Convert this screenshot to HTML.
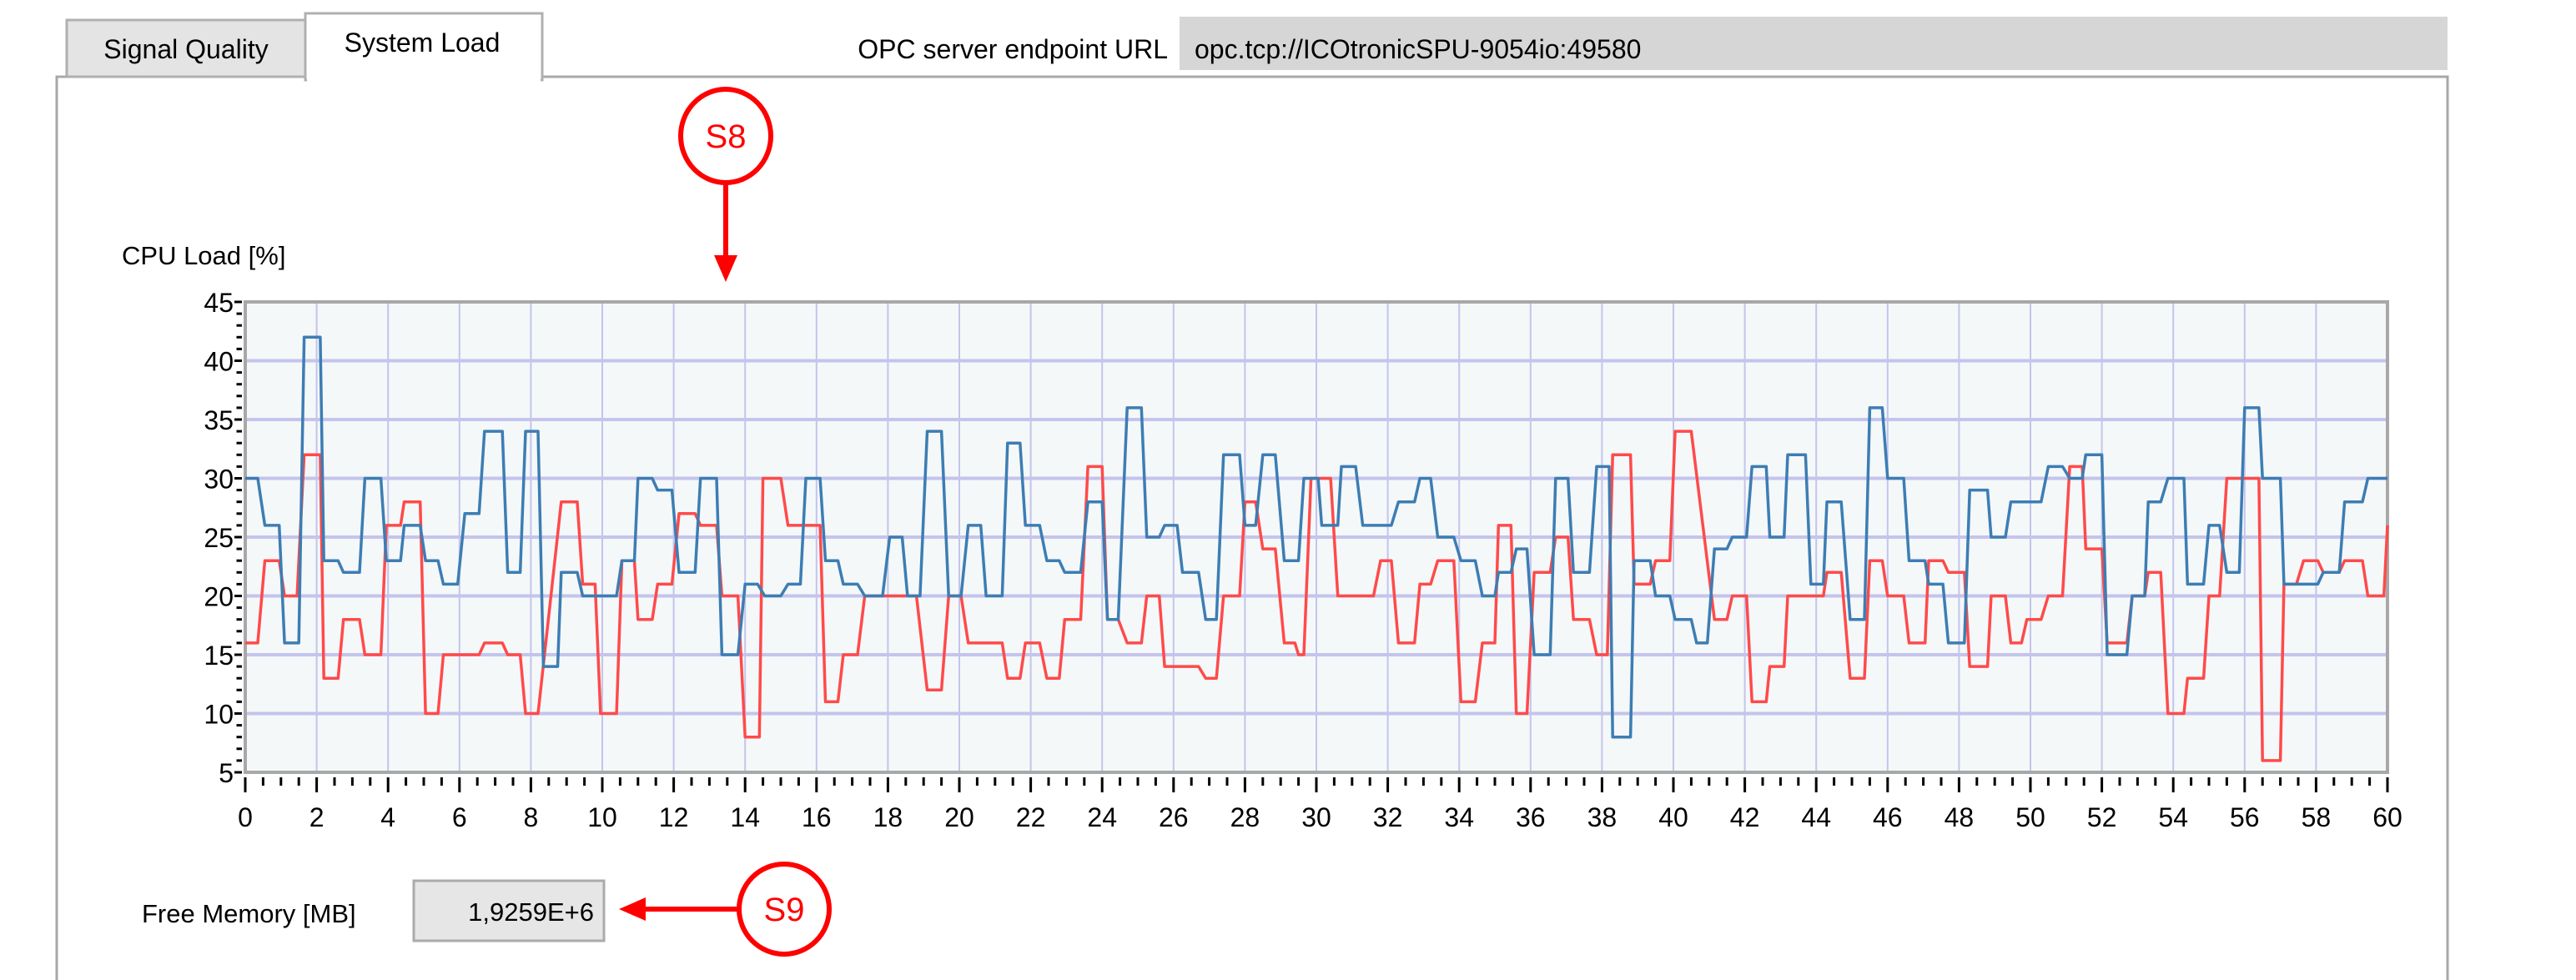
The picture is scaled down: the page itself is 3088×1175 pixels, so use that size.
<!DOCTYPE html>
<html><head><meta charset="utf-8"><style>
html,body{margin:0;padding:0;background:#fff;width:3088px;height:1175px;overflow:hidden;font-family:"Liberation Sans",sans-serif;}
</style></head><body>
<svg id="s" width="3088" height="1175" xmlns="http://www.w3.org/2000/svg" font-family="Liberation Sans, sans-serif">
<rect x="68" y="92" width="2866" height="1090" fill="#fff" stroke="#a8a8a8" stroke-width="3"/>
<rect x="80" y="24" width="286" height="68" fill="#e4e4e4" stroke="#b0b0b0" stroke-width="3"/>
<text x="223" y="70" font-size="32" text-anchor="middle" fill="#000">Signal Quality</text>
<rect x="366" y="16" width="284" height="80" fill="#fff" stroke="#b0b0b0" stroke-width="3"/>
<rect x="368" y="88" width="280" height="10" fill="#fff"/>
<text x="506" y="62" font-size="32" text-anchor="middle" fill="#000">System Load</text>
<text x="1400" y="70" font-size="32" text-anchor="end" fill="#000">OPC server endpoint URL</text>
<rect x="1414" y="20" width="1520" height="64" fill="#d6d6d6"/>
<text x="1432" y="70" font-size="32" fill="#000">opc.tcp://ICOtronicSPU-9054io:49580</text>
<text x="146" y="317" font-size="31" fill="#000">CPU Load [%]</text>
<g id="plot"></g>
<text x="170" y="1106" font-size="31" fill="#000">Free Memory [MB]</text>
<rect x="496" y="1056" width="228" height="72" fill="#e6e6e6" stroke="#ababab" stroke-width="3"/>
<text x="712" y="1104" font-size="31" text-anchor="end" fill="#000">1,9259E+6</text>
<g stroke="#f00" fill="none" stroke-width="6">
<ellipse cx="870" cy="163" rx="54" ry="56" fill="#fff"/>
<line x1="870" y1="219" x2="870" y2="310"/>
<ellipse cx="940" cy="1090" rx="54" ry="54" fill="#fff"/>
<line x1="886" y1="1090" x2="770" y2="1090"/>
</g>
<polygon points="856,306 884,306 870,338" fill="#f00"/>
<polygon points="774,1076 774,1104 742,1090" fill="#f00"/>
<text x="870" y="177" font-size="40" text-anchor="middle" fill="#f00">S8</text>
<text x="940" y="1104" font-size="40" text-anchor="middle" fill="#f00">S9</text>
</svg>
<script>
var L=294,R=2862,T=362,B=926;
function X(t){return L+(R-L)*t/60}
function Y(v){return B-(B-T)*(v-5)/40}
var h='<rect x="'+L+'" y="'+T+'" width="'+(R-L)+'" height="'+(B-T)+'" fill="#f4f8f9"/>';
for(var t=2;t<60;t+=2)h+='<line x1="'+X(t)+'" y1="'+T+'" x2="'+X(t)+'" y2="'+B+'" stroke="#c4c4ec" stroke-width="2"/>';
for(var v=10;v<45;v+=5)h+='<line x1="'+L+'" y1="'+Y(v)+'" x2="'+R+'" y2="'+Y(v)+'" stroke="#c4c4ec" stroke-width="4"/>';
h+='<rect x="'+L+'" y="'+T+'" width="'+(R-L)+'" height="'+(B-T)+'" fill="none" stroke="#a8a8a8" stroke-width="4"/>';
for(var v=5;v<=45;v++){var w=(v%5==0)?10:5;h+='<line x1="'+(L-8-w/2)+'" y1="'+Y(v)+'" x2="'+(L-4)+'" y2="'+Y(v)+'" stroke="#000" stroke-width="3"/>';}
for(var v=5;v<=45;v+=5)h+='<text x="'+(L-14)+'" y="'+(Y(v)+12)+'" font-size="32" text-anchor="end">'+v+'</text>';
for(var i=0;i<=120;i++){var t=i/2,x=X(t),len=(i%4==0)?18:10;h+='<line x1="'+x+'" y1="'+(B+6)+'" x2="'+x+'" y2="'+(B+6+len)+'" stroke="#000" stroke-width="3"/>';}
for(var t=0;t<=60;t+=2)h+='<text x="'+X(t)+'" y="'+(B+65)+'" font-size="32" text-anchor="middle">'+t+'</text>';
var blue=[[0,30,.35],[.55,26,.95],[1.1,16,1.5],[1.65,42,2.1],[2.2,23,2.6],[2.75,22,3.2],[3.35,30,3.8],[3.95,23,4.35],[4.45,26,4.9],[5.05,23,5.4],[5.55,21,5.95],[6.15,27,6.55],[6.7,34,7.2],[7.35,22,7.7],[7.85,34,8.2],[8.35,14,8.75],[8.85,22,9.3],[9.45,20,10.4],[10.55,23,10.9],[11,30,11.4],[11.55,29,11.95],[12.15,22,12.6],[12.75,30,13.2],[13.35,15,13.8],[14,21,14.35],[14.55,20,15],[15.2,21,15.55],[15.7,30,16.1],[16.25,23,16.6],[16.75,21,17.15],[17.35,20,17.85],[18.05,25,18.4],[18.55,20,18.9],[19.1,34,19.5],[19.7,20,20.05],[20.25,26,20.6],[20.75,20,21.2],[21.35,33,21.7],[21.85,26,22.25],[22.45,23,22.8],[22.95,22,23.4],[23.6,28,24],[24.15,18,24.45],[24.7,36,25.1],[25.25,25,25.6],[25.75,26,26.1],[26.25,22,26.7],[26.9,18,27.2],[27.4,32,27.85],[28,26,28.3],[28.5,32,28.85],[29.1,23,29.5],[29.65,30,30.05],[30.15,26,30.6],[30.7,31,31.1],[31.3,26,32.1],[32.3,28,32.75],[32.9,30,33.2],[33.4,25,33.85],[34.05,23,34.45],[34.65,20,35],[35.1,22,35.45],[35.6,24,35.9],[36.1,15,36.55],[36.7,30,37.05],[37.2,22,37.65],[37.85,31,38.2],[38.3,8,38.8],[38.9,23,39.35],[39.5,20,39.9],[40.05,18,40.5],[40.65,16,40.95],[41.15,24,41.5],[41.65,25,42.05],[42.2,31,42.6],[42.7,25,43.1],[43.2,32,43.7],[43.85,21,44.2],[44.3,28,44.7],[44.95,18,45.35],[45.5,36,45.85],[46,30,46.45],[46.6,23,47.05],[47.15,21,47.55],[47.7,16,48.15],[48.3,29,48.8],[48.9,25,49.3],[49.45,28,50.3],[50.5,31,50.9],[51.1,30,51.45],[51.55,32,52],[52.15,15,52.7],[52.85,20,53.2],[53.3,28,53.65],[53.85,30,54.3],[54.4,21,54.85],[55,26,55.3],[55.5,22,55.85],[56,36,56.4],[56.5,30,57],[57.1,21,58.05],[58.2,22,58.65],[58.8,28,59.3],[59.45,30,60]];
var red=[[0,16,.35],[.55,23,.95],[1.1,20,1.45],[1.65,32,2.1],[2.2,13,2.6],[2.75,18,3.2],[3.35,15,3.8],[3.95,26,4.35],[4.45,28,4.9],[5.05,10,5.4],[5.55,15,6.55],[6.7,16,7.2],[7.35,15,7.7],[7.85,10,8.2],[8.85,28,9.3],[9.45,21,9.8],[9.95,10,10.4],[10.55,23,10.9],[11,18,11.4],[11.55,21,11.95],[12.15,27,12.6],[12.75,26,13.2],[13.35,20,13.8],[14,8,14.4],[14.5,30,15],[15.2,26,16.1],[16.25,11,16.6],[16.75,15,17.15],[17.35,20,18.8],[19.1,12,19.5],[19.7,20,20.05],[20.25,16,21.2],[21.35,13,21.7],[21.85,16,22.25],[22.45,13,22.8],[22.95,18,23.4],[23.6,31,24],[24.15,18,24.45],[24.7,16,25.1],[25.25,20,25.6],[25.75,14,26.7],[26.9,13,27.2],[27.4,20,27.85],[28,28,28.3],[28.5,24,28.85],[29.1,16,29.4],[29.5,15,29.65],[29.85,30,30.4],[30.6,20,31.6],[31.8,23,32.1],[32.3,16,32.75],[32.9,21,33.2],[33.4,23,33.85],[34.05,11,34.45],[34.65,16,35],[35.1,26,35.45],[35.6,10,35.9],[36.1,22,36.55],[36.7,25,37.05],[37.2,18,37.65],[37.85,15,38.15],[38.3,32,38.8],[38.9,21,39.35],[39.5,23,39.9],[40.05,34,40.5],[41.15,18,41.5],[41.65,20,42.05],[42.2,11,42.6],[42.7,14,43.1],[43.2,20,44.2],[44.3,22,44.7],[44.95,13,45.35],[45.5,23,45.85],[46,20,46.45],[46.6,16,47.05],[47.15,23,47.55],[47.7,22,48.15],[48.3,14,48.8],[48.9,20,49.3],[49.45,16,49.75],[49.9,18,50.3],[50.5,20,50.9],[51.1,31,51.45],[51.55,24,52],[52.15,16,52.7],[52.85,20,53.2],[53.3,22,53.65],[53.85,10,54.3],[54.4,13,54.85],[55,20,55.3],[55.5,30,56.4],[56.5,6,57],[57.1,21,57.45],[57.65,23,58.05],[58.2,22,58.65],[58.8,23,59.3],[59.45,20,59.9],[60,26,60]];
function pl(d,c){var p=[];d.forEach(function(s){p.push(X(s[0]).toFixed(1)+','+Y(s[1]).toFixed(1));p.push(X(s[2]).toFixed(1)+','+Y(s[1]).toFixed(1));});return '<polyline points="'+p.join(' ')+'" fill="none" stroke="'+c+'" stroke-width="3.5" stroke-linejoin="round"/>';}
h+=pl(red,'#ff4a4a')+pl(blue,'#3d7db3');
document.getElementById('plot').innerHTML=h;
</script>
</body></html>
